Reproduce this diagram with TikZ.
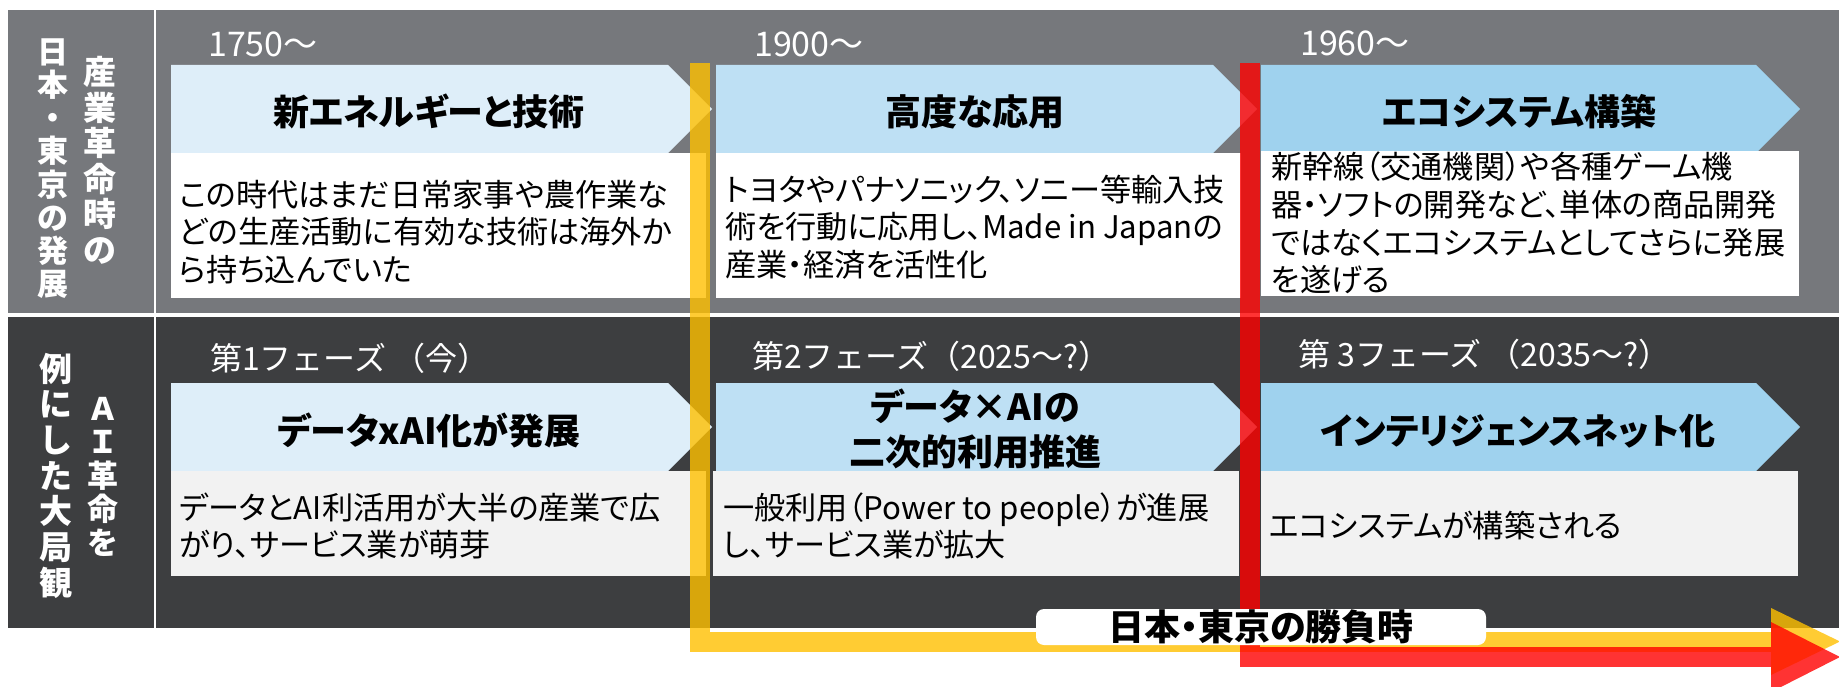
\documentclass[tikz,border=0pt]{standalone}
\usepackage{fontspec}
\setmainfont{Noto Sans CJK JP}[RawFeature={+palt}]
\newfontfamily\jpfixed{Noto Sans CJK JP}
\definecolor{bandgray}{HTML}{76787C}
\definecolor{banddark}{HTML}{3D3E40}
\definecolor{phaseA}{HTML}{DEEEF9}
\definecolor{phaseB}{HTML}{BEE0F4}
\definecolor{phaseC}{HTML}{9FD2EE}
\definecolor{descgray}{HTML}{F2F2F2}
\definecolor{lineyellow}{HTML}{FFC000}
\definecolor{linered}{HTML}{FF0000}
\newcommand{\para}[1]{\parbox[t]{600bp}{\raggedright #1}}
\newcommand{\vstack}[1]{\parbox[t]{44bp}{\centering #1}}
\begin{document}
\begin{tikzpicture}[x=1bp,y=-1bp,
  year/.style={font=\jpfixed\fontsize{34bp}{34bp}\selectfont,text=white,anchor=base west,inner sep=0pt},
  phase/.style={font=\jpfixed\fontsize{32bp}{32bp}\selectfont,text=white,anchor=base west,inner sep=0pt},
  title/.style={font=\bfseries\fontsize{36bp}{45bp}\selectfont,anchor=base,inner sep=0pt},
  body/.style={font=\fontsize{31.2bp}{37.5bp}\selectfont,anchor=base west,inner sep=0pt},
  sidelabel/.style={text=white,anchor=base,inner sep=0pt},
  timeline/.style={line width=20bp,opacity=0.8,line join=miter},
  ]
  \useasboundingbox (0,0) rectangle (1839,687);
  \fill[white] (0,0) rectangle (1839,687);
%%
  % Band: industrial revolution
  \fill[bandgray] (8,10) rectangle (154,313);
  \fill[bandgray] (156,10) rectangle (1839,313);
  % Band: AI revolution
  \fill[banddark] (8,317) rectangle (154,628);
  \fill[banddark] (156,317) rectangle (1839,628);
%%
  % Node: side labels
  \node[sidelabel,font=\bfseries\fontsize{33bp}{35.4bp}\selectfont] (sideA) at (100,85) {\vstack{産\\業\\革\\命\\時\\の}};
  \node[sidelabel,font=\bfseries\fontsize{31bp}{33bp}\selectfont] (sideB) at (53,64) {\vstack{日\\本\\・\\東\\京\\の\\発\\展}};
  \node[sidelabel,font=\bfseries\fontsize{31bp}{33.5bp}\selectfont] (sideC) at (103,420) {\vstack{Ａ\\Ｉ\\革\\命\\を}};
  \node[sidelabel,font=\bfseries\fontsize{33bp}{35.7bp}\selectfont] (sideD) at (56,381) {\vstack{例\\に\\し\\た\\大\\局\\観}};
%%
  % Node: era 1750
  \node[year] (y1750) at (208,57) {1750～};
  \fill[phaseA] (171,65) -- (668,65) -- (712,109) -- (668,153) -- (171,153) -- cycle;
  \node[title] (energy) at (429,126) {新エネルギーと技術};
  \fill[white] (171,153) rectangle (706,298);
  \node[body] (energytxt) at (179,206) {\para{この時代はまだ日常家事や農作業な\\どの生産活動に有効な技術は海外か\\ら持ち込んでいた}};
  % Node: era 1900
  \node[year] (y1900) at (754,57) {1900～};
  \fill[phaseB] (716,65) -- (1213,65) -- (1257,109) -- (1213,153) -- (716,153) -- cycle;
  \node[title] (applied) at (975,126) {高度な応用};
  \fill[white] (716,153) rectangle (1241,298);
  \node[body] (appliedtxt) at (725,201) {\para{トヨタやパナソニック、ソニー等輸入技\\術を行動に応用し、Made in Japanの\\産業・経済を活性化}};
  % Node: era 1960
  \node[year] (y1960) at (1300,56) {1960～};
  \fill[phaseC] (1261,65) -- (1756,65) -- (1800,109) -- (1756,153) -- (1261,153) -- cycle;
  \node[title] (ecosys) at (1519,126) {エコシステム構築};
  \fill[white] (1261,151) rectangle (1799,296);
  \node[body] (ecosystxt) at (1271,179) {\para{新幹線（交通機関）や各種ゲーム機\\器・ソフトの開発など、単体の商品開発\\ではなくエコシステムとしてさらに発展\\を遂げる}};
%%
  % Node: phase 1
  \node[phase] (ph1) at (210,370) {第1フェーズ （今）};
  \fill[phaseA] (171,383) -- (668,383) -- (712,427) -- (668,471) -- (171,471) -- cycle;
  \node[title] (dataai) at (429,444) {データxAI化が発展};
  \fill[descgray] (171,471) rectangle (706,576);
  \node[body] (dataaitxt) at (179,519) {\para{データとAI利活用が大半の産業で広\\がり、サービス業が萌芽}};
  % Node: phase 2
  \node[phase] (ph2) at (752,368) {第2フェーズ（2025～?）};
  \fill[phaseB] (716,383) -- (1213,383) -- (1257,427) -- (1213,471) -- (716,471) -- cycle;
  \node[title] (secondary) at (975,420) {\parbox[t]{420bp}{\centering データ×AIの\\二次的利用推進}};
  \fill[descgray] (713,471) rectangle (1239,576);
  \node[body] (secondarytxt) at (723,519) {\para{一般利用（Power to people）が進展\\し、サービス業が拡大}};
  % Node: phase 3
  \node[phase] (ph3) at (1298,366) {第 3フェーズ （2035～?）};
  \fill[phaseC] (1261,383) -- (1756,383) -- (1800,427) -- (1756,471) -- (1261,471) -- cycle;
  \node[title] (intnet) at (1518,444) {インテリジェンスネット化};
  \fill[descgray] (1261,471) rectangle (1798,576);
  \node[body] (intnettxt) at (1269,537) {\para{エコシステムが構築される}};
%%
  % Edge: yellow timeline
  \coordinate (ytop) at (699.5,63);
  \coordinate (yturn) at (699.5,641.5);
  \coordinate (yend) at (1771,641.5);
  \draw[timeline,lineyellow] (ytop) -- (yturn) -- (yend);
  \fill[lineyellow,opacity=0.8] (1771,608) -- (1840,641.5) -- (1771,675) -- cycle;
  % Edge: red timeline
  \coordinate (rtop) at (1249.5,63);
  \coordinate (rturn) at (1249.5,657);
  \coordinate (rend) at (1771,657);
  \draw[timeline,linered] (rtop) -- (rturn) -- (rend);
  \fill[linered,opacity=0.8] (1771,622) -- (1840,657) -- (1771,692) -- cycle;
  % Node: verdict label
  \node[fill=white,rounded corners=8bp,minimum width=450bp,minimum height=36bp,inner sep=0pt,
        font=\bfseries\fontsize{36bp}{36bp}\selectfont] (verdict) at (1261,627) {日本・東京の勝負時};
%
\end{tikzpicture}
\end{document}
